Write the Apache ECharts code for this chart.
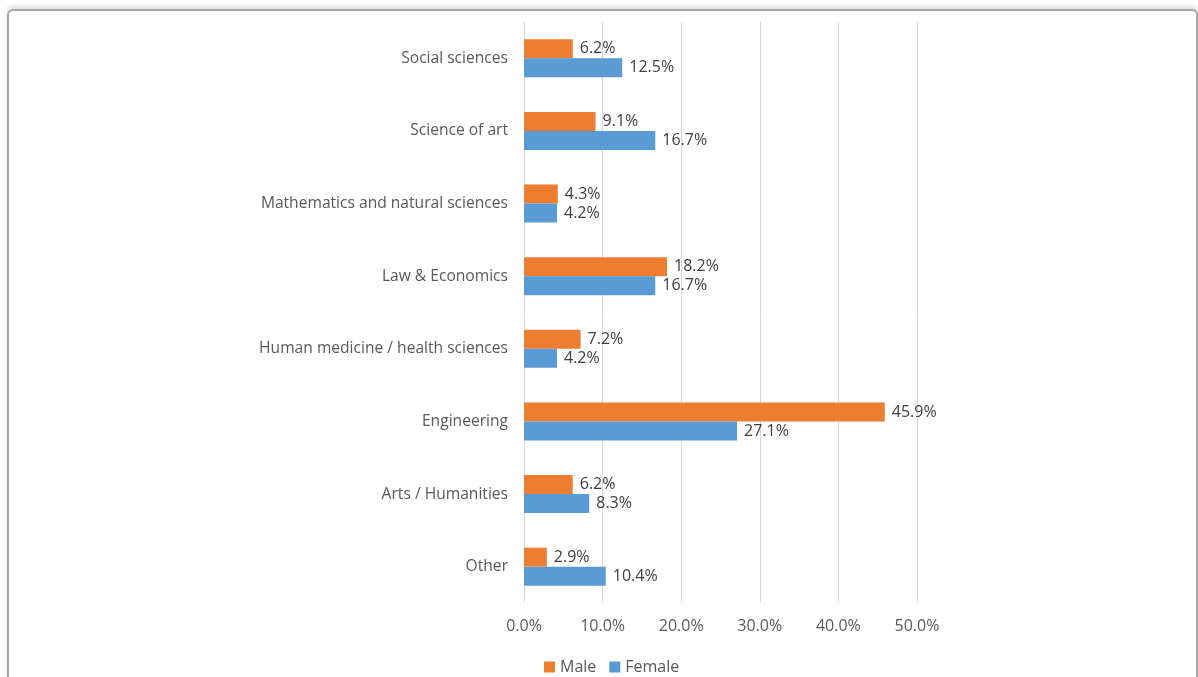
<!DOCTYPE html>
<html><head><meta charset="utf-8">
<script src="https://cdn.jsdelivr.net/npm/echarts@6/dist/echarts.min.js"></script>
<style>
html,body{margin:0;padding:0;background:#fff;width:1198px;height:677px;overflow:hidden}
#frame{position:absolute;left:7px;top:9px;width:1187px;height:700px;border:2px solid #a6a6a6;border-radius:6px;box-shadow:0 -3px 4px #ddd;background:#fff}
#c{position:absolute;left:0;top:0;width:1198px;height:677px}
</style></head>
<body><div id="frame"></div><div id="c"></div>
<script>
const categories = ["Social sciences","Science of art","Mathematics and natural sciences","Law & Economics","Human medicine / health sciences","Engineering","Arts / Humanities","Other"];
const maleValues = [6.2, 9.1, 4.3, 18.2, 7.2, 45.9, 6.2, 2.9];
const femaleValues = [12.5, 16.7, 4.2, 16.7, 4.2, 27.1, 8.3, 10.4];
const xTicks = {min: 0, max: 50, interval: 10};
const font = '"Open Sans", "Liberation Sans", sans-serif';
const chart = echarts.init(document.getElementById('c'), null, {renderer:'canvas'});
const lbl = {show:true, position:'right', distance:7, color:'#404040', fontSize:16, fontFamily:font, formatter:p=>p.value.toFixed(1)+'%'};
chart.setOption({
  animation:false,
  textStyle:{fontFamily:font},
  grid:{left:524, right:1198-917, top:22, bottom:677-603, containLabel:false},
  legend:{bottom:-3, left:539, itemWidth:11, itemHeight:11, itemGap:13, icon:'rect',
    textStyle:{color:'#595959', fontSize:16, fontFamily:font}, data:['Male','Female']},
  xAxis:{type:'value', min:xTicks.min, max:xTicks.max, interval:xTicks.interval,
    axisLine:{show:false}, axisTick:{show:false},
    splitLine:{lineStyle:{color:'#d9d9d9', width:1}},
    axisLabel:{color:'#595959', fontSize:16, fontFamily:font, margin:15, formatter:v=>v.toFixed(1)+'%'}},
  yAxis:{type:'category', inverse:true, data:categories,
    axisLine:{show:false}, axisTick:{show:false},
    axisLabel:{color:'#595959', fontSize:15.6, fontFamily:font, margin:16}},
  series:[
    {name:'Male', type:'bar', data:maleValues, barWidth:19, barGap:'0%', itemStyle:{color:'#ED7D31'}, label:lbl},
    {name:'Female', type:'bar', data:femaleValues, barWidth:19, barGap:'0%', itemStyle:{color:'#5B9BD5'}, label:lbl}
  ]
});
</script></body></html>
